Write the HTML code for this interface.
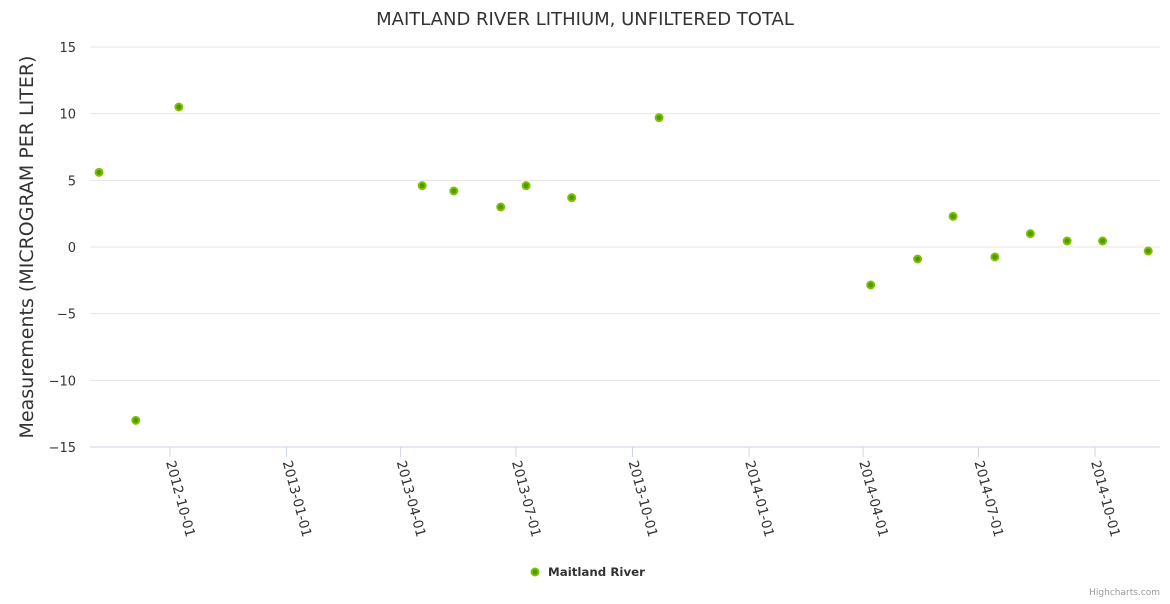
<!DOCTYPE html>
<html><head><meta charset="utf-8"><style>
body{margin:0;background:#fff;font-family:"DejaVu Sans","Liberation Sans",sans-serif}
svg text{font-family:"DejaVu Sans","Liberation Sans",sans-serif}
</style></head><body>
<svg id="chart" width="1170" height="600">
<text x="585" y="25" text-anchor="middle" font-size="18" fill="#333">MAITLAND RIVER LITHIUM, UNFILTERED TOTAL</text>
<text transform="translate(33,247) rotate(-90)" text-anchor="middle" font-size="19" fill="#333">Measurements (MICROGRAM PER LITER)</text>
<g id="grid"></g><g id="xaxis"></g><g id="pts"></g>
<g>
<circle cx="535" cy="572" r="3.5" fill="#4c9900" stroke="#80c000" stroke-width="2"/>
<text x="548" y="576" font-size="11.8" font-weight="bold" fill="#333">Maitland River</text></g>
<text x="1160" y="595" text-anchor="end" font-size="9" fill="#999">Highcharts.com</text>
</svg>
<script>
const dates=["2012-08-06","2012-09-04","2012-10-08","2013-04-18","2013-05-13","2013-06-19","2013-07-09","2013-08-14","2013-10-22","2014-04-07","2014-05-14","2014-06-11","2014-07-14","2014-08-11","2014-09-09","2014-10-07","2014-11-12"];
const values=[5.6,-13.0,10.5,4.6,4.2,3.0,4.6,3.7,9.7,-2.85,-0.9,2.3,-0.75,1.0,0.45,0.45,-0.3];
const yTicks=[-15,-10,-5,0,5,10,15];
const xTicks=["2012-10-01","2013-01-01","2013-04-01","2013-07-01","2013-10-01","2014-01-01","2014-04-01","2014-07-01","2014-10-01"];
const NS="http://www.w3.org/2000/svg";
const t0=Date.parse("2012-10-01"),pxd=925/730;
const X=d=>170+(Date.parse(d)-t0)/86400000*pxd;
const Y=v=>247-v*(400/30);
const mk=(n,a,p)=>{const e=document.createElementNS(NS,n);for(const k in a)e.setAttribute(k,a[k]);p.appendChild(e);return e;};
const g=document.getElementById('grid'),xa=document.getElementById('xaxis'),pg=document.getElementById('pts');
yTicks.forEach(v=>{
 const l=mk('line',{x1:90,x2:1160,y1:Y(v),y2:Y(v),stroke:v==-15?'#ccd6eb':'#e6e6e6'},g);
 
 
 const t=mk('text',{x:76,y:Y(v)+5,'text-anchor':'end','font-size':13,fill:'#333'},g);
 t.textContent=v<0?'−'+(-v):v;
 
 
});
xTicks.forEach(d=>{
 const x=X(d);
 const l=mk('line',{x1:x,x2:x,y1:447,y2:457,stroke:'#ccd6eb'},xa);
 
 
 const t=mk('text',{transform:`translate(${x-4},462) rotate(75)`,'font-size':13.5,fill:'#333'},xa);
 t.textContent=d;
 
 
});
dates.forEach((d,i)=>{
 const c=mk('circle',{cx:X(d),cy:Y(values[i]),r:3.5,fill:'#4c9900',stroke:'#80c000','stroke-width':2},pg);
 
 
});
</script>
</body></html>
